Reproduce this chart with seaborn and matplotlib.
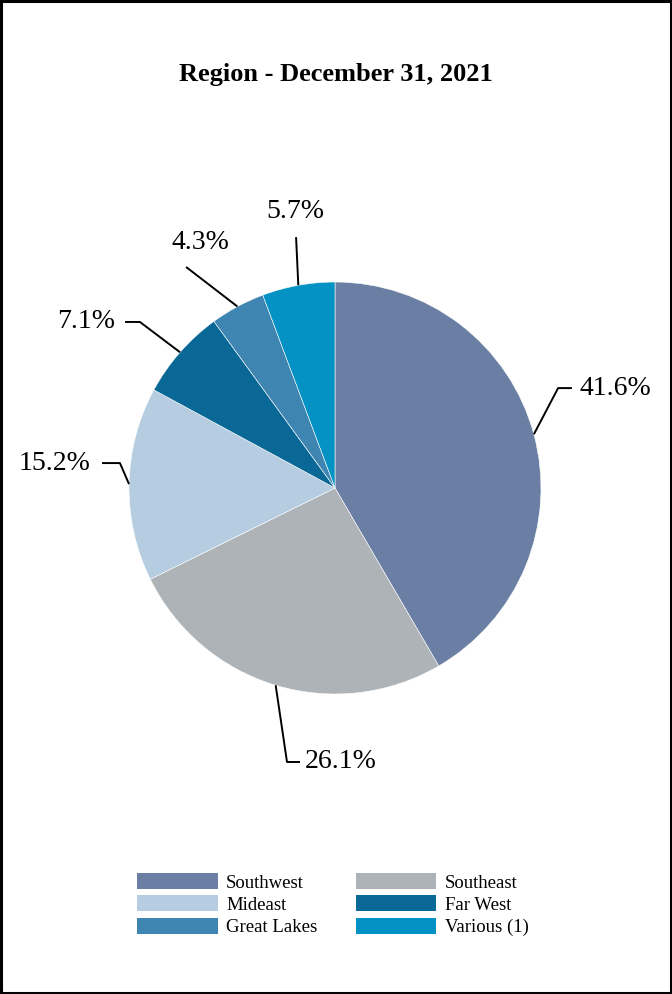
import numpy as np
import matplotlib
matplotlib.use("Agg")
import matplotlib.pyplot as plt
import matplotlib.patches as mpatches
import seaborn as sns

# data
regions = ["Southwest", "Southeast", "Mideast", "Far West", "Great Lakes", "Various (1)"]
shares = [41.6, 26.1, 15.2, 7.1, 4.3, 5.7]
colors = ["#6a7fa3", "#adb3b7", "#b5cce1", "#0a6896", "#3f85b1", "#0392c3"]

# label layout: (elbow point, end of horizontal tick, text pos, alignment), in pie radius units
label_layout = [
    ((1.083, 0.485), (1.150, 0.485), (1.189, 0.485), "left"),
    ((-0.233, -1.330), (-0.170, -1.330), (-0.146, -1.330), "left"),
    ((-1.044, 0.121), (-1.131, 0.121), (-1.189, 0.121), "right"),
    ((-0.947, 0.806), (-1.019, 0.806), (-1.068, 0.806), "right"),
    ((-0.723, 1.073), None, (-0.655, 1.194), "center"),
    ((-0.189, 1.218), None, (-0.194, 1.340), "center"),
]

sns.set_theme(style="white")
plt.rcParams["font.family"] = ["Liberation Serif", "DejaVu Serif"]
plt.rcParams["text.color"] = "black"

W, H = 672, 994
R = 206.0          # pie radius in px
cx, cy = 335, 488  # pie centre in px (from top)

fig = plt.figure(figsize=(W / 100, H / 100), dpi=100)
ax = fig.add_axes([0, 0, 1, 1])

wedges, _ = ax.pie(shares, colors=colors, startangle=90, counterclock=False,
                   radius=1.0, wedgeprops=dict(edgecolor="white", linewidth=0.4),
                   frame=True)
ax.set_xlim(-cx / R, (W - cx) / R)
ax.set_ylim(-(H - cy) / R, cy / R)
ax.axis("off")

for w, v, (elbow, tick, tpos, ha) in zip(wedges, shares, label_layout):
    ang = np.deg2rad((w.theta1 + w.theta2) / 2)
    edge = (np.cos(ang), np.sin(ang))
    xs = [edge[0], elbow[0]]
    ys = [edge[1], elbow[1]]
    if tick is not None:
        xs.append(tick[0])
        ys.append(tick[1])
    ax.plot(xs, ys, color="black", lw=1.4, solid_capstyle="butt")
    ax.text(tpos[0], tpos[1], f"{v:.1f}%", ha=ha, va="center", fontsize=20, color="black")

fig.text(0.5, 1 - 75 / H, "Region - December 31, 2021", ha="center", va="center",
         fontsize=19, fontweight="bold", color="black")

# row-major order in a 2-column legend
order = [0, 2, 4, 1, 3, 5]
handles = [mpatches.Patch(facecolor=colors[i], edgecolor="none", label=regions[i]) for i in order]
leg = fig.legend(handles=handles, ncol=2, loc="upper left", frameon=False,
                 bbox_to_anchor=(137 / W, 1 - 873 / H), fontsize=13.5,
                 handlelength=4.3, handleheight=0.95, handletextpad=0.45,
                 labelspacing=0.2, columnspacing=2.05, borderpad=0, borderaxespad=0)
for t in leg.get_texts():
    t.set_color("black")

fig.patches.append(mpatches.Rectangle((0.002, 0.0015), 0.996, 0.997, transform=fig.transFigure,
                                      fill=False, edgecolor="black", linewidth=2.2))

fig.savefig("out.png", dpi=100)
